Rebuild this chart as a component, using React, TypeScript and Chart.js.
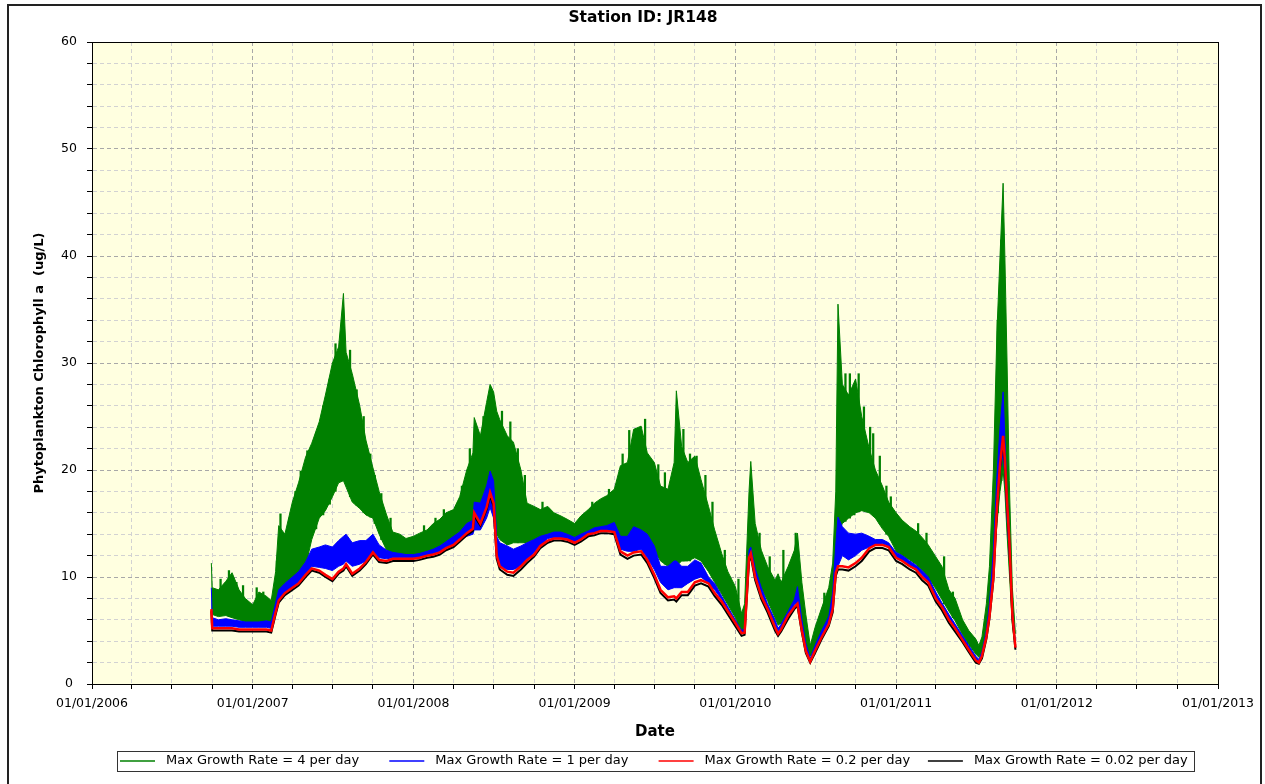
import React, { useEffect, useRef } from 'react';
import { Chart, registerables } from 'chart.js';

Chart.register(...registerables);

// ---- Data ----
const dates = [
  '2006-09-29', '2006-10-01', '2006-10-15', '2006-11-01', '2006-11-15', '2006-12-01', '2006-12-15',
  '2007-01-01', '2007-01-15', '2007-02-01', '2007-02-12', '2007-02-22', '2007-03-01', '2007-03-15',
  '2007-04-01', '2007-04-15', '2007-05-01', '2007-05-15', '2007-06-01', '2007-06-15', '2007-07-01',
  '2007-07-15', '2007-07-26', '2007-08-01', '2007-08-15', '2007-09-01', '2007-09-15', '2007-10-01',
  '2007-10-15', '2007-11-01', '2007-11-15', '2007-12-01', '2007-12-15',
  '2008-01-01', '2008-01-15', '2008-02-01', '2008-02-15', '2008-03-01', '2008-03-15', '2008-04-01',
  '2008-04-15', '2008-05-01', '2008-05-15', '2008-05-18', '2008-06-01', '2008-06-15', '2008-06-23',
  '2008-07-01', '2008-07-08', '2008-07-15', '2008-08-01', '2008-08-15', '2008-09-01', '2008-09-15',
  '2008-10-01', '2008-10-15', '2008-11-01', '2008-11-15', '2008-12-01', '2008-12-15',
  '2009-01-01', '2009-01-15', '2009-02-01', '2009-02-15', '2009-03-01', '2009-03-15', '2009-04-01',
  '2009-04-15', '2009-05-01', '2009-05-15', '2009-06-01', '2009-06-15', '2009-07-01', '2009-07-15',
  '2009-08-01', '2009-08-15', '2009-08-20', '2009-09-01', '2009-09-15', '2009-10-01', '2009-10-15',
  '2009-11-01', '2009-11-15', '2009-12-01', '2009-12-15',
  '2010-01-01', '2010-01-15', '2010-01-22', '2010-02-01', '2010-02-05', '2010-02-15', '2010-03-01',
  '2010-03-15', '2010-04-01', '2010-04-08', '2010-04-15', '2010-05-01', '2010-05-15', '2010-05-22',
  '2010-06-01', '2010-06-10', '2010-06-20', '2010-07-01', '2010-07-15', '2010-08-01', '2010-08-10',
  '2010-08-17', '2010-08-22', '2010-09-01', '2010-09-15', '2010-10-01', '2010-10-15', '2010-11-01',
  '2010-11-15', '2010-12-01', '2010-12-15',
  '2011-01-01', '2011-01-15', '2011-02-01', '2011-02-15', '2011-03-01', '2011-03-15', '2011-04-01',
  '2011-04-15', '2011-05-01', '2011-05-15', '2011-06-01', '2011-06-15', '2011-07-01', '2011-07-08',
  '2011-07-15', '2011-07-25', '2011-08-01', '2011-08-10', '2011-08-18', '2011-08-25', '2011-09-01',
  '2011-09-05', '2011-09-10', '2011-09-15', '2011-09-22', '2011-09-29',
];

// Max Growth Rate = 4 per day : upper / lower envelope of the daily oscillation
const growth4High = [
  11.3, 9.0, 8.8, 9.6, 10.4, 8.8, 8.0,
  7.4, 8.6, 8.2, 7.8, 10.5, 14.8, 14.0,
  17.0, 18.8, 21.2, 22.5, 24.5, 27.0, 30.0,
  31.5, 36.5, 31.0, 29.0, 26.0, 22.8, 20.2,
  18.0, 15.8, 14.2, 14.0, 13.6,
  13.8, 14.1, 14.4, 15.0, 15.4, 16.0, 16.3,
  17.5, 20.0, 21.6, 24.9, 23.2, 26.3, 28.0,
  27.3, 25.5, 24.7, 23.2, 22.6, 20.0, 16.9,
  16.6, 16.3, 16.6, 16.0, 15.7, 15.4,
  15.0, 15.7, 16.3, 16.9, 17.3, 17.6, 18.2,
  20.4, 20.7, 23.8, 24.1, 21.6, 20.7, 18.5,
  18.2, 20.7, 27.4, 22.2, 20.7, 21.3, 19.1,
  16.6, 14.4, 12.2, 10.5,
  9.1, 6.6, 7.5, 18.0, 20.8, 15.0, 12.5,
  11.0, 9.7, 10.3, 9.5, 11.0, 12.5, 14.1,
  9.5, 6.5, 3.6, 5.3, 7.0, 9.0, 11.3,
  18.0, 35.5, 28.0, 27.0, 28.5, 25.0, 22.0,
  20.0, 18.5, 17.0,
  16.0, 15.3, 14.7, 14.3, 13.7, 13.0, 11.9,
  11.0, 8.8, 8.0, 6.0, 5.0, 4.2, 3.6,
  4.4, 7.5, 11.0, 20.0, 33.0, 40.0, 46.8,
  40.0, 30.0, 19.0, 9.0, 4.7,
];
const growth4Low = [
  6.8, 6.5, 6.3, 6.4, 6.2, 6.0, 5.8,
  5.7, 5.8, 5.9, 5.7, 6.8, 8.0, 9.0,
  9.5, 10.3, 11.0, 13.5, 15.5, 16.2, 17.5,
  18.8, 19.0, 18.4, 17.0, 16.4, 15.8, 15.5,
  14.0, 12.5, 12.0, 12.0, 11.9,
  11.9, 12.0, 12.1, 12.3, 12.5, 12.9, 13.3,
  13.7, 14.4, 14.6, 15.0, 15.5, 17.0, 17.5,
  16.5, 14.0, 13.5, 13.0, 13.2, 13.2, 13.2,
  13.5, 13.7, 14.0, 14.1, 14.0, 13.9,
  13.7, 13.9, 14.2, 14.3, 14.4, 14.4, 14.5,
  13.5, 13.5, 13.5, 13.8, 13.0, 12.5, 11.5,
  11.0, 11.0, 11.0, 11.5, 11.5, 11.8, 11.5,
  10.5, 9.5, 8.4, 7.4,
  6.2, 5.0, 5.0, 11.0, 12.5, 10.5, 9.0,
  7.8, 6.2, 5.5, 5.7, 6.8, 7.5, 8.0,
  5.5, 3.5, 2.6, 3.3, 4.5, 6.0, 7.5,
  10.0, 14.0, 15.0, 15.5, 16.0, 16.2, 16.0,
  15.5, 14.5, 13.8,
  12.4, 12.0, 11.6, 11.2, 10.6, 10.0, 8.9,
  7.9, 6.8, 5.9, 4.6, 3.7, 2.8, 2.5,
  3.0, 4.6, 6.5, 10.5, 15.0, 18.0, 20.0,
  18.0, 14.0, 10.5, 5.5, 3.4,
];

// Individual short-lived peaks of the 4 per day series (date, base, top)
const growth4SpikeDates = [
  '2006-10-20', '2006-11-08', '2006-11-25', '2006-12-10', '2007-01-10', '2007-01-25', '2007-02-25',
  '2007-03-05', '2007-03-25', '2007-04-08', '2007-04-20', '2007-05-05', '2007-05-25', '2007-06-10',
  '2007-06-25', '2007-07-08', '2007-08-10', '2007-08-25', '2007-09-10', '2007-09-25', '2007-10-05',
  '2007-10-20', '2007-11-10', '2008-01-25', '2008-02-20', '2008-03-10', '2008-04-20', '2008-05-08',
  '2008-06-08', '2008-07-20', '2008-08-08', '2008-08-25', '2008-09-10', '2008-10-20', '2009-02-10',
  '2009-03-20', '2009-04-20', '2009-05-05', '2009-06-10', '2009-07-10', '2009-07-25', '2009-09-05',
  '2009-09-20', '2009-10-05', '2009-10-25', '2009-11-10', '2009-12-08', '2010-01-08', '2010-02-25',
  '2010-03-20', '2010-04-20', '2010-05-18', '2010-07-22', '2010-09-08', '2010-09-18', '2010-09-28',
  '2010-10-08', '2010-10-20', '2010-11-03', '2010-11-10', '2010-11-25', '2010-12-10', '2010-12-20',
  '2011-01-05', '2011-02-20', '2011-03-11', '2011-04-20', '2011-05-10', '2011-08-20', '2011-08-28',
];
const growth4SpikeBase = [
  6.4, 6.3, 6.1, 5.9, 5.7, 5.8, 7.2,
  8.2, 9.2, 9.8, 10.5, 11.5, 14.5, 15.8,
  16.8, 18.0, 17.5, 16.7, 16.0, 15.6, 15.0,
  13.5, 12.2, 12.0, 12.3, 12.8, 13.8, 14.5,
  16.0, 13.4, 13.1, 13.2, 13.2, 13.8, 14.2,
  14.4, 13.5, 13.5, 13.5, 12.0, 11.2, 11.5,
  11.5, 11.8, 11.0, 10.0, 8.0, 5.6, 9.5,
  7.4, 5.9, 7.8, 5.0, 15.2, 15.5, 15.8,
  16.1, 16.2, 16.0, 15.8, 15.0, 14.0, 13.5,
  12.3, 11.0, 10.3, 7.5, 6.2, 16.0, 19.0,
];
const growth4SpikeTop = [
  9.8, 10.6, 9.5, 9.2, 9.0, 8.6, 11.5,
  15.9, 15.5, 18.0, 19.9, 21.8, 23.5, 26.0,
  28.5, 31.8, 31.2, 27.5, 25.0, 21.5, 19.5,
  17.8, 15.5, 14.8, 15.5, 16.3, 18.5, 22.0,
  25.0, 25.5, 24.5, 22.0, 19.5, 17.0, 17.0,
  18.2, 21.5, 23.7, 24.75, 20.5, 19.75, 23.8,
  21.5, 21.3, 19.5, 17.0, 12.5, 9.8, 14.1,
  11.9, 12.5, 14.1, 8.5, 29.0, 29.0, 26.0,
  29.0, 25.9, 24.0, 23.4, 21.3, 18.5, 17.5,
  15.6, 15.0, 14.1, 11.9, 8.6, 34.0, 41.5,
];

// Max Growth Rate = 1 per day : upper / lower envelope
const growth1High = [
  9.0, 6.2, 6.0, 6.1, 6.0, 5.9, 5.8,
  5.8, 5.8, 5.9, 5.8, 7.6, 8.8, 9.4,
  10.0, 10.5, 11.4, 12.6, 12.8, 13.0, 12.8,
  13.4, 13.8, 14.0, 13.2, 13.4, 13.4, 14.0,
  13.0, 12.5, 12.3, 12.2, 12.1,
  12.1, 12.2, 12.4, 12.6, 12.9, 13.3, 13.8,
  14.2, 15.0, 15.3, 17.0, 16.9, 18.5, 19.9,
  19.0, 13.8, 13.2, 12.9, 12.6, 12.9, 13.2,
  13.5, 13.8, 14.0, 14.2, 14.2, 14.0,
  13.7, 14.0, 14.3, 14.6, 14.7, 14.8, 15.1,
  13.8, 13.8, 14.7, 14.4, 14.0, 12.9, 11.0,
  11.0, 11.5, 11.5, 11.0, 11.0, 11.6, 11.3,
  10.0, 9.4, 8.2, 7.2,
  6.0, 5.0, 5.2, 12.5, 12.8, 10.8, 9.0,
  7.5, 6.0, 5.2, 5.6, 6.8, 7.9, 9.1,
  6.0, 3.8, 2.4, 3.6, 4.9, 6.3, 8.5,
  13.0, 15.6, 14.7, 14.1, 14.0, 14.1, 13.8,
  13.5, 13.5, 13.2,
  12.3, 12.0, 11.5, 11.1, 10.6, 10.0, 8.6,
  7.6, 6.5, 5.6, 4.5, 3.6, 2.6, 2.3,
  3.0, 5.0, 7.5, 12.5, 19.5, 24.0, 27.3,
  23.0, 18.0, 14.0, 7.0, 3.8,
];
const growth1Low = [
  5.8, 5.4, 5.4, 5.4, 5.4, 5.3, 5.3,
  5.3, 5.3, 5.3, 5.2, 6.8, 7.6, 8.3,
  8.9, 9.5, 10.2, 11.0, 10.9, 10.8, 10.6,
  11.0, 11.2, 11.5, 11.0, 11.2, 11.5, 12.1,
  11.8, 11.7, 11.8, 11.8, 11.8,
  11.8, 11.8, 12.1, 12.2, 12.4, 12.7, 13.0,
  13.5, 13.8, 14.0, 14.4, 14.4, 15.5, 16.5,
  15.5, 12.0, 11.0, 10.7, 10.7, 11.0, 11.6,
  12.3, 12.9, 13.6, 13.7, 13.7, 13.6,
  13.3, 13.6, 13.8, 14.1, 14.3, 14.3, 14.3,
  12.6, 12.4, 12.4, 12.6, 11.8, 10.7, 9.5,
  8.8, 9.0, 9.0, 9.0, 9.4, 9.8, 10.0,
  9.4, 8.8, 7.9, 6.9,
  5.8, 4.8, 4.8, 11.5, 12.0, 10.0, 8.5,
  7.0, 5.6, 4.9, 5.3, 6.4, 7.4, 7.6,
  5.0, 3.2, 2.2, 3.2, 4.5, 5.8, 7.2,
  10.5, 11.0, 12.0, 11.6, 12.0, 12.5, 12.8,
  13.0, 13.1, 12.9,
  11.9, 11.6, 11.1, 10.8, 10.2, 9.6, 8.2,
  7.3, 6.1, 5.3, 4.2, 3.3, 2.3, 2.1,
  2.7, 4.5, 6.5, 10.5, 16.5, 20.0, 21.5,
  19.5, 15.5, 12.0, 6.0, 3.3,
];

// Max Growth Rate = 0.2 per day
const growth02 = [
  7.0, 5.2, 5.2, 5.2, 5.2, 5.1, 5.1,
  5.1, 5.1, 5.1, 5.0, 6.7, 7.8, 8.5,
  9.0, 9.4, 10.2, 10.8, 10.6, 10.2, 9.8,
  10.5, 10.8, 11.2, 10.3, 10.8, 11.4, 12.3,
  11.6, 11.5, 11.7, 11.7, 11.7,
  11.7, 11.8, 12.0, 12.1, 12.3, 12.7, 13.0,
  13.5, 14.1, 14.5, 16.0, 15.0, 16.5, 17.9,
  16.9, 12.0, 11.0, 10.5, 10.4, 11.0, 11.6,
  12.1, 12.9, 13.4, 13.6, 13.6, 13.5,
  13.2, 13.5, 14.0, 14.1, 14.3, 14.3, 14.2,
  12.4, 12.0, 12.3, 12.4, 11.6, 10.2, 8.8,
  8.1, 8.2, 8.0, 8.6, 8.6, 9.5, 9.7,
  9.4, 8.5, 7.7, 6.8,
  5.7, 4.75, 4.8, 11.8, 12.2, 10.0, 8.2,
  7.0, 5.3, 4.7, 5.1, 6.4, 7.2, 7.5,
  5.0, 3.1, 2.1, 3.1, 4.3, 5.6, 7.0,
  10.4, 11.0, 11.0, 10.9, 11.3, 11.8, 12.7,
  13.0, 13.0, 12.8,
  11.8, 11.5, 11.0, 10.7, 10.0, 9.5, 8.0,
  7.2, 6.0, 5.2, 4.1, 3.2, 2.2, 2.0,
  2.6, 4.4, 6.3, 10.0, 16.5, 20.5, 23.2,
  21.0, 17.0, 13.5, 6.5, 3.4,
];

// Max Growth Rate = 0.02 per day
const growth002 = [
  6.8, 5.0, 5.0, 5.0, 5.0, 4.9, 4.9,
  4.9, 4.9, 4.9, 4.8, 6.5, 7.6, 8.3,
  8.8, 9.2, 10.0, 10.6, 10.4, 10.0, 9.6,
  10.3, 10.6, 11.0, 10.1, 10.6, 11.2, 12.1,
  11.4, 11.3, 11.5, 11.5, 11.5,
  11.5, 11.6, 11.8, 11.9, 12.1, 12.5, 12.8,
  13.3, 13.9, 14.3, 15.7, 14.8, 16.3, 17.6,
  16.6, 11.7, 10.7, 10.2, 10.1, 10.7, 11.3,
  11.9, 12.7, 13.2, 13.4, 13.4, 13.3,
  13.0, 13.3, 13.8, 13.9, 14.1, 14.1, 14.0,
  12.1, 11.7, 12.0, 12.1, 11.3, 9.9, 8.5,
  7.8, 7.9, 7.7, 8.3, 8.3, 9.2, 9.4,
  9.1, 8.2, 7.4, 6.5,
  5.4, 4.5, 4.6, 11.5, 11.9, 9.7, 7.9,
  6.7, 5.0, 4.5, 4.9, 6.1, 7.0, 7.3,
  4.8, 2.9, 2.0, 2.9, 4.1, 5.4, 6.7,
  10.1, 10.7, 10.7, 10.6, 11.0, 11.5, 12.4,
  12.7, 12.7, 12.5,
  11.5, 11.2, 10.7, 10.4, 9.7, 9.2, 7.7,
  6.9, 5.7, 4.9, 3.9, 3.0, 2.0, 1.9,
  2.4, 4.2, 6.1, 9.7, 16.2, 20.2, 22.9,
  20.7, 16.7, 13.2, 6.2, 3.2,
];

const seriesLabels = [
  'Max Growth Rate = 4 per day',
  'Max Growth Rate = 1 per day',
  'Max Growth Rate = 0.2 per day',
  'Max Growth Rate = 0.02 per day',
];
const xTickYears = [2006, 2007, 2008, 2009, 2010, 2011, 2012, 2013];
const yMajorTicks = [0, 10, 20, 30, 40, 50, 60];

const GREEN = '#008000';
const BLUE = '#0000FF';
const RED = '#FF0000';
const BLACK = '#000000';
const FONT = "'DejaVu Sans', Verdana, sans-serif";

const toPoints = (ys: number[]) => ys.map((y, i) => ({ x: Date.parse(dates[i]), y }));
const spikePoints = growth4SpikeDates.map((d, i) => ({
  x: Date.parse(d),
  y: [growth4SpikeBase[i], growth4SpikeTop[i]],
}));

const quarterTicks: number[] = [];
xTickYears.forEach((yr) => {
  [0, 3, 6, 9].forEach((m) => {
    if (yr < xTickYears[xTickYears.length - 1] || m === 0) quarterTicks.push(Date.UTC(yr, m, 1));
  });
});

const isYearStart = (v: number) => new Date(v).getUTCMonth() === 0;

const decorPlugin = {
  id: 'decor',
  beforeDraw(chart: any) {
    const { ctx, chartArea: a } = chart;
    ctx.save();
    ctx.fillStyle = '#FFFFFF';
    ctx.fillRect(0, 0, chart.width, chart.height);
    ctx.fillStyle = '#FFFFE0';
    ctx.fillRect(a.left, a.top, a.right - a.left, a.bottom - a.top);
    ctx.restore();
  },
  afterDraw(chart: any) {
    const { ctx, chartArea: a } = chart;
    ctx.save();
    // plot frame
    ctx.strokeStyle = '#000';
    ctx.lineWidth = 1;
    ctx.strokeRect(Math.round(a.left) + 0.5, Math.round(a.top) + 0.5, Math.round(a.right - a.left), Math.round(a.bottom - a.top));
    // outer frame
    ctx.strokeStyle = '#222';
    ctx.lineWidth = 2;
    ctx.strokeRect(8, 5, 1253, 800);
    // title
    ctx.fillStyle = '#000';
    ctx.font = `bold 15.5px ${FONT}`;
    ctx.textAlign = 'center';
    ctx.textBaseline = 'middle';
    ctx.fillText('Station ID: JR148', 643, 18);
    // legend
    const items = chart.data.datasets.filter((d: any) => d.label);
    ctx.font = `13px ${FONT}`;
    ctx.textAlign = 'left';
    const y = 761;
    items.forEach((d: any, i: number) => {
      const x0 = 120 + i * 269.3;
      ctx.strokeStyle = d.legendColor;
      ctx.lineWidth = 1.6;
      ctx.beginPath();
      ctx.moveTo(x0, y);
      ctx.lineTo(x0 + 35, y);
      ctx.stroke();
      ctx.fillStyle = '#000';
      ctx.fillText(d.label, x0 + 46, y);
    });
    ctx.strokeStyle = '#333';
    ctx.lineWidth = 1;
    ctx.strokeRect(117.5, 751.5, 1077, 20);
    ctx.restore();
  },
};

export default function App() {
  const ref = useRef<HTMLCanvasElement | null>(null);
  useEffect(() => {
    if (!ref.current) return;
    const base = (label: string, ys: number[], color: string, extra: any) => ({
      type: 'line',
      label,
      legendColor: color,
      data: toPoints(ys),
      borderColor: color,
      backgroundColor: color,
      borderWidth: 1,
      pointRadius: 0,
      tension: 0,
      fill: false,
      ...extra,
    });
    const chart = new Chart(ref.current, {
      type: 'line',
      data: {
        datasets: [
          base(seriesLabels[0], growth4High, GREEN, { fill: '+1', order: 4 }),
          base('', growth4Low, GREEN, { order: 4 }),
          base(seriesLabels[1], growth1High, BLUE, { fill: '+1', order: 3 }),
          base('', growth1Low, BLUE, { order: 3 }),
          base(seriesLabels[2], growth02, RED, { borderWidth: 2.5, order: 1 }),
          base(seriesLabels[3], growth002, BLACK, { borderWidth: 2, order: 2 }),
          {
            type: 'bar',
            label: '',
            data: spikePoints,
            backgroundColor: GREEN,
            borderWidth: 0,
            barThickness: 1.6,
            grouped: false,
            order: 3.5,
          },
        ],
      },
      options: {
        responsive: false,
        animation: false,
        devicePixelRatio: 1,
        layout: { padding: { left: 30, right: 47, top: 42, bottom: 33 } },
        plugins: {
          legend: { display: false },
          title: { display: false },
          tooltip: { enabled: false },
        },
        scales: {
          x: {
            type: 'linear',
            offset: false,
            min: Date.UTC(xTickYears[0], 0, 1),
            max: Date.UTC(xTickYears[xTickYears.length - 1], 0, 1),
            afterBuildTicks: (s: any) => {
              s.ticks = quarterTicks.map((value) => ({ value }));
            },
            afterFit: (s: any) => {
              s.height = 67;
            },
            ticks: {
              autoSkip: false,
              maxRotation: 0,
              padding: 7,
              color: '#000',
              font: { family: FONT, size: 12.5 },
              callback: (v: any) => {
                const d = new Date(Number(v));
                return d.getUTCMonth() === 0 ? `01/01/${d.getUTCFullYear()}` : '';
              },
            },
            grid: {
              offset: false,
              color: (c: any) => (c.tick && isYearStart(c.tick.value) ? '#A8A8A8' : '#D2D2D2'),
              lineWidth: 1,
              tickColor: '#000',
              tickLength: 5,
            },
            border: { display: true, color: '#000', width: 1, dash: [4, 3] },
            title: {
              display: true,
              text: 'Date',
              color: '#000',
              font: { family: FONT, size: 15, weight: 'bold' },
              padding: { top: 0, bottom: 10 },
            },
          },
          y: {
            min: 0,
            max: 60,
            afterFit: (s: any) => {
              s.width = 62;
            },
            ticks: {
              stepSize: 2,
              autoSkip: false,
              crossAlign: 'center',
              padding: 10,
              color: '#000',
              font: { family: FONT, size: 12.5 },
              callback: (v: any) => (yMajorTicks.includes(Number(v)) ? String(v) : ''),
            },
            grid: {
              color: (c: any) => (c.tick && yMajorTicks.includes(c.tick.value) ? '#A8A8A8' : '#D2D2D2'),
              lineWidth: 1,
              tickColor: '#000',
              tickLength: 5,
            },
            border: { display: true, color: '#000', width: 1, dash: [4, 3] },
            title: {
              display: true,
              text: 'Phytoplankton Chlorophyll a  (ug/L)',
              color: '#000',
              font: { family: FONT, size: 13, weight: 'bold' },
              padding: { top: 2, bottom: 0 },
            },
          },
        },
      } as any,
      plugins: [decorPlugin],
    });
    return () => chart.destroy();
  }, []);

  return (
    <div style={{ position: 'fixed', left: 0, top: 0, width: 1265, height: 784, background: '#fff' }}>
      <canvas ref={ref} width={1265} height={784} style={{ display: 'block' }} />
    </div>
  );
}
